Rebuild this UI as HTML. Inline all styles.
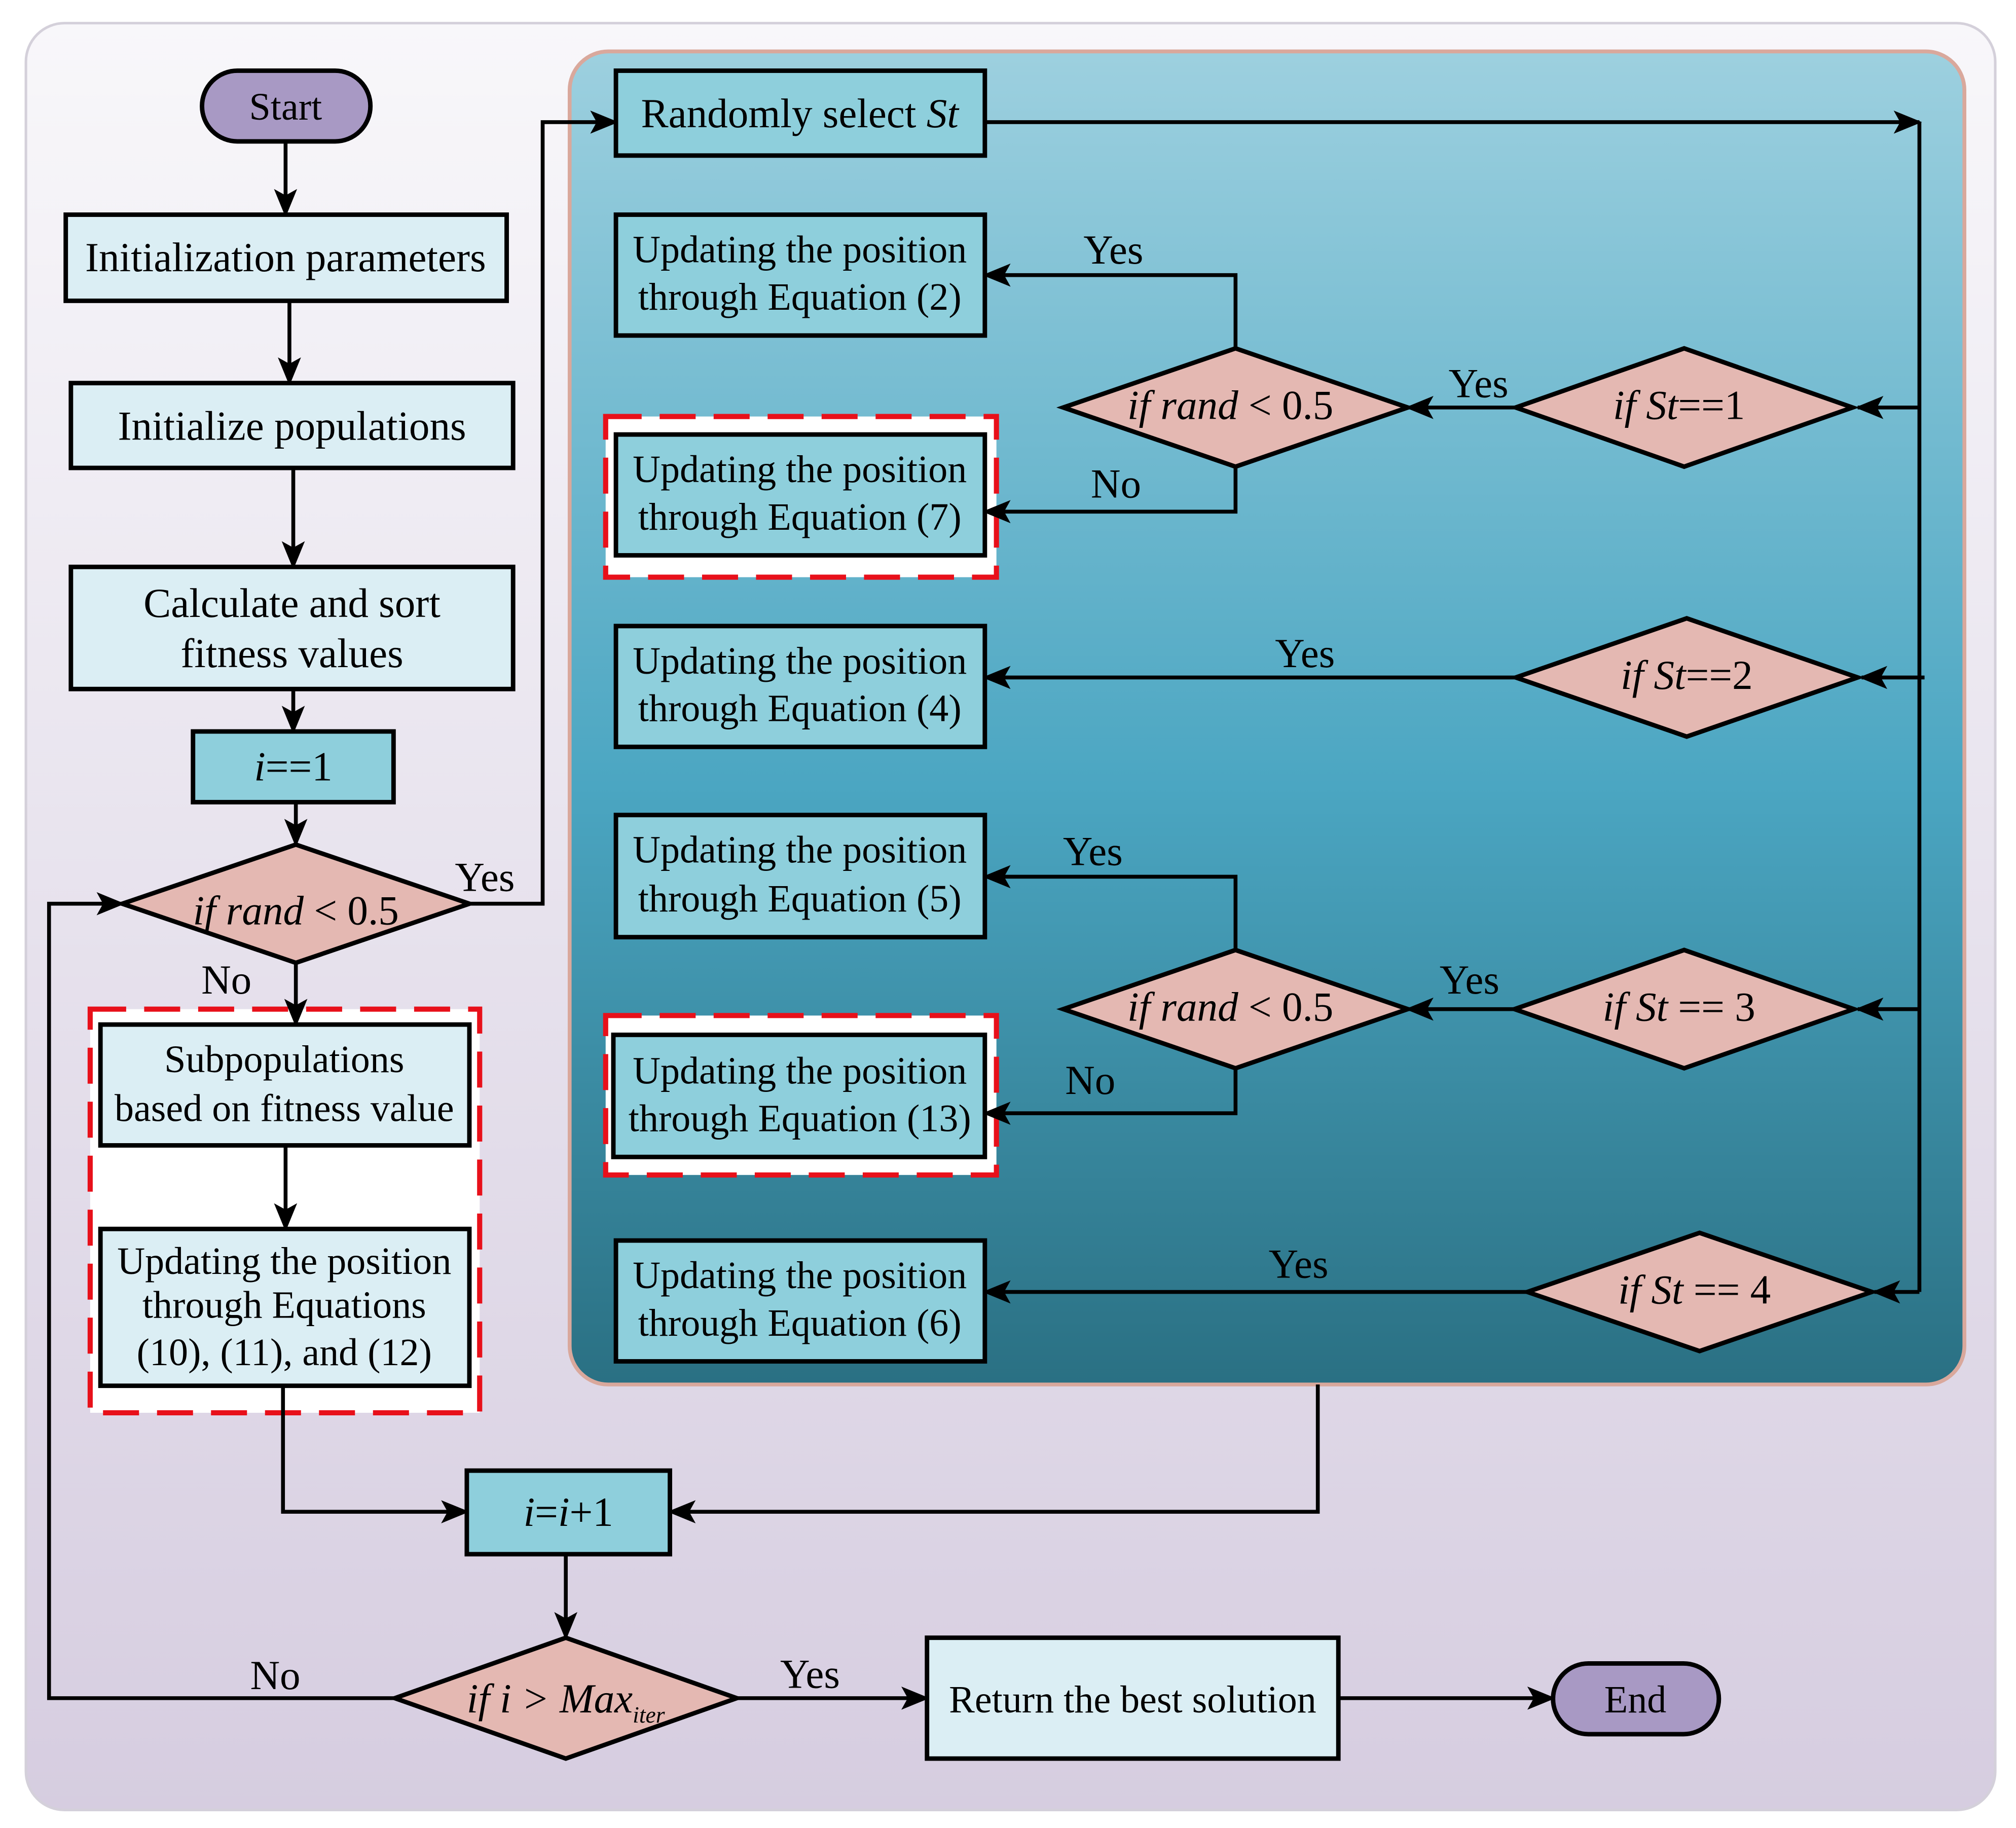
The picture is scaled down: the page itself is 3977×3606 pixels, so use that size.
<!DOCTYPE html>
<html><head><meta charset="utf-8"><style>
html,body{margin:0;padding:0;background:#fff;}
svg{display:block;}
text{font-family:"Liberation Serif",serif;fill:#000;}
</style></head><body>
<svg width="3977" height="3606" viewBox="0 0 1568 1422" xmlns="http://www.w3.org/2000/svg">
<defs>
<linearGradient id="bg" x1="0" y1="0" x2="0" y2="1"><stop offset="0" stop-color="#f8f7fa"/><stop offset="1" stop-color="#d6cde0"/></linearGradient>
<linearGradient id="tl" x1="0" y1="0" x2="0" y2="1"><stop offset="0" stop-color="#9dd0df"/><stop offset="0.55" stop-color="#4ba6c2"/><stop offset="1" stop-color="#2a7083"/></linearGradient>
<marker id="b" markerWidth="22" markerHeight="18" refX="20" refY="9" orient="auto" markerUnits="userSpaceOnUse"><path d="M0,0 L22,9 L0,18 L5,9 z" fill="#000"/></marker>
</defs>
<rect x="0" y="0" width="1568" height="1422" fill="#fff"/>
<rect x="20" y="18" width="1532" height="1390" rx="30" fill="url(#bg)" stroke="#d4d0da" stroke-width="2"/>
<rect x="443" y="40" width="1085" height="1037" rx="30" fill="url(#tl)" stroke="#d9a89c" stroke-width="3"/>

<!-- dashed boxes -->
<g fill="#fff" stroke="#e8101a" stroke-width="4" stroke-dasharray="28,14">
<rect x="70" y="785" width="303" height="314"/>
<rect x="471" y="324" width="304" height="125"/>
<rect x="471" y="790" width="304" height="124"/>
</g>

<g stroke="#000" stroke-width="3" fill="none">
<line x1="222" y1="110" x2="222" y2="167" marker-end="url(#b)"/>
<line x1="225" y1="234" x2="225" y2="298" marker-end="url(#b)"/>
<line x1="228" y1="364" x2="228" y2="441" marker-end="url(#b)"/>
<line x1="228" y1="536" x2="228" y2="569" marker-end="url(#b)"/>
<line x1="230" y1="624" x2="230" y2="657" marker-end="url(#b)"/>
<polyline points="365,703 422,703 422,95 479,95" marker-end="url(#b)"/>
<line x1="230" y1="749" x2="230" y2="797" marker-end="url(#b)"/>
<line x1="222" y1="891" x2="222" y2="956" marker-end="url(#b)"/>
<polyline points="220,1078 220,1176 363,1176" marker-end="url(#b)"/>
<line x1="440" y1="1209" x2="440" y2="1274" marker-end="url(#b)"/>
<polyline points="307,1321 38,1321 38,703 95,703" marker-end="url(#b)"/>
<line x1="573" y1="1321" x2="721" y2="1321" marker-end="url(#b)"/>
<line x1="1041" y1="1321" x2="1208" y2="1321" marker-end="url(#b)"/>
<polyline points="1025,1077 1025,1176 521,1176" marker-end="url(#b)"/>
<line x1="766" y1="95" x2="1493" y2="95" marker-end="url(#b)"/>
<line x1="1493" y1="95" x2="1493" y2="1005"/>
<line x1="1493" y1="317" x2="1445" y2="317" marker-end="url(#b)"/>
<line x1="1497" y1="527" x2="1448" y2="527" marker-end="url(#b)"/>
<line x1="1493" y1="785" x2="1445" y2="785" marker-end="url(#b)"/>
<line x1="1493" y1="1005" x2="1458" y2="1005" marker-end="url(#b)"/>
<line x1="1179" y1="317" x2="1095" y2="317" marker-end="url(#b)"/>
<polyline points="961,271 961,214 766,214" marker-end="url(#b)"/>
<polyline points="961,363 961,398 766,398" marker-end="url(#b)"/>
<line x1="1179" y1="527" x2="766" y2="527" marker-end="url(#b)"/>
<polyline points="961,739 961,682 766,682" marker-end="url(#b)"/>
<polyline points="961,831 961,866 766,866" marker-end="url(#b)"/>
<line x1="1178" y1="785" x2="1095" y2="785" marker-end="url(#b)"/>
<line x1="1188" y1="1005" x2="766" y2="1005" marker-end="url(#b)"/>
</g>

<g stroke="#000" stroke-width="3.5">
<rect x="157" y="55" width="131" height="55" rx="27.5" fill="#a899c4"/>
<rect x="1208" y="1294" width="129" height="55" rx="27.5" fill="#a899c4"/>
<g fill="#dbeef4">
<rect x="51" y="167" width="343" height="67"/>
<rect x="55" y="298" width="344" height="66"/>
<rect x="55" y="441" width="344" height="95"/>
<rect x="78" y="797" width="287" height="94"/>
<rect x="78" y="956" width="287" height="122"/>
<rect x="721" y="1274" width="320" height="94"/>
</g>
<g fill="#8ecfdc">
<rect x="150" y="569" width="156" height="55"/>
<rect x="363" y="1144" width="158" height="65"/>
<rect x="479" y="55" width="287" height="66"/>
<rect x="479" y="167" width="287" height="94"/>
<rect x="479" y="338" width="287" height="94"/>
<rect x="479" y="487" width="287" height="94"/>
<rect x="479" y="634" width="287" height="95"/>
<rect x="477" y="805" width="289" height="95"/>
<rect x="479" y="965" width="287" height="94"/>
</g>
<g fill="#e4b8b2">
<polygon points="95,703 230,657 365,703 230,749"/>
<polygon points="307,1321 440,1274 573,1321 440,1368"/>
<polygon points="827,317 961,271 1095,317 961,363"/>
<polygon points="1179,317 1310,271 1441,317 1310,363"/>
<polygon points="1179,527 1312,481 1445,527 1312,573"/>
<polygon points="827,785 961,739 1095,785 961,831"/>
<polygon points="1178,785 1310,739 1442,785 1310,831"/>
<polygon points="1188,1005 1322,959 1456,1005 1322,1051"/>
</g>
</g>

<g font-size="32" text-anchor="middle">
<text x="222" y="93" font-size="30">Start</text>
<text x="1272" y="1332" font-size="30">End</text>
<text x="222" y="211">Initialization parameters</text>
<text x="227" y="342">Initialize populations</text>
<text x="227" y="480">Calculate and sort</text>
<text x="227" y="519">fitness values</text>
<text x="228" y="607"><tspan font-style="italic">i</tspan>==1</text>
<text x="442" y="1187"><tspan font-style="italic">i</tspan>=<tspan font-style="italic">i</tspan>+1</text>
<text x="230" y="719"><tspan font-style="italic">if  rand</tspan> &lt; 0.5</text>
<text x="221" y="834" font-size="30">Subpopulations</text>
<text x="221" y="872" font-size="30">based on fitness value</text>
<text x="221" y="991" font-size="30">Updating the position</text>
<text x="221" y="1025" font-size="30">through Equations</text>
<text x="221" y="1062" font-size="30">(10), (11), and (12)</text>
<text x="440" y="1332" font-style="italic">if  i &gt; Max<tspan font-size="18" dy="8">iter</tspan></text>
<text x="881" y="1332" font-size="30">Return the best solution</text>
<text x="622" y="99">Randomly select <tspan font-style="italic">St</tspan></text>
<g font-size="30">
<text x="622" y="204">Updating the position</text><text x="622" y="241">through Equation (2)</text>
<text x="622" y="375">Updating the position</text><text x="622" y="412">through Equation (7)</text>
<text x="622" y="524">Updating the position</text><text x="622" y="561">through Equation (4)</text>
<text x="622" y="671">Updating the position</text><text x="622" y="709">through Equation (5)</text>
<text x="622" y="843">Updating the position</text><text x="622" y="880">through Equation (13)</text>
<text x="622" y="1002">Updating the position</text><text x="622" y="1039">through Equation (6)</text>
</g>
<text x="957" y="326"><tspan font-style="italic">if  rand</tspan> &lt; 0.5</text>
<text x="957" y="794"><tspan font-style="italic">if  rand</tspan> &lt; 0.5</text>
<text x="1306" y="326"><tspan font-style="italic">if  St</tspan>==1</text>
<text x="1312" y="536"><tspan font-style="italic">if  St</tspan>==2</text>
<text x="1306" y="794"><tspan font-style="italic">if  St</tspan> == 3</text>
<text x="1318" y="1014"><tspan font-style="italic">if  St</tspan> == 4</text>
<text x="377" y="693">Yes</text>
<text x="176" y="773">No</text>
<text x="214" y="1314">No</text>
<text x="630" y="1313">Yes</text>
<text x="866" y="205">Yes</text>
<text x="868" y="387">No</text>
<text x="1150" y="309">Yes</text>
<text x="1015" y="519">Yes</text>
<text x="850" y="673">Yes</text>
<text x="848" y="851">No</text>
<text x="1143" y="773">Yes</text>
<text x="1010" y="994">Yes</text>
</g>
</svg>
</body></html>
